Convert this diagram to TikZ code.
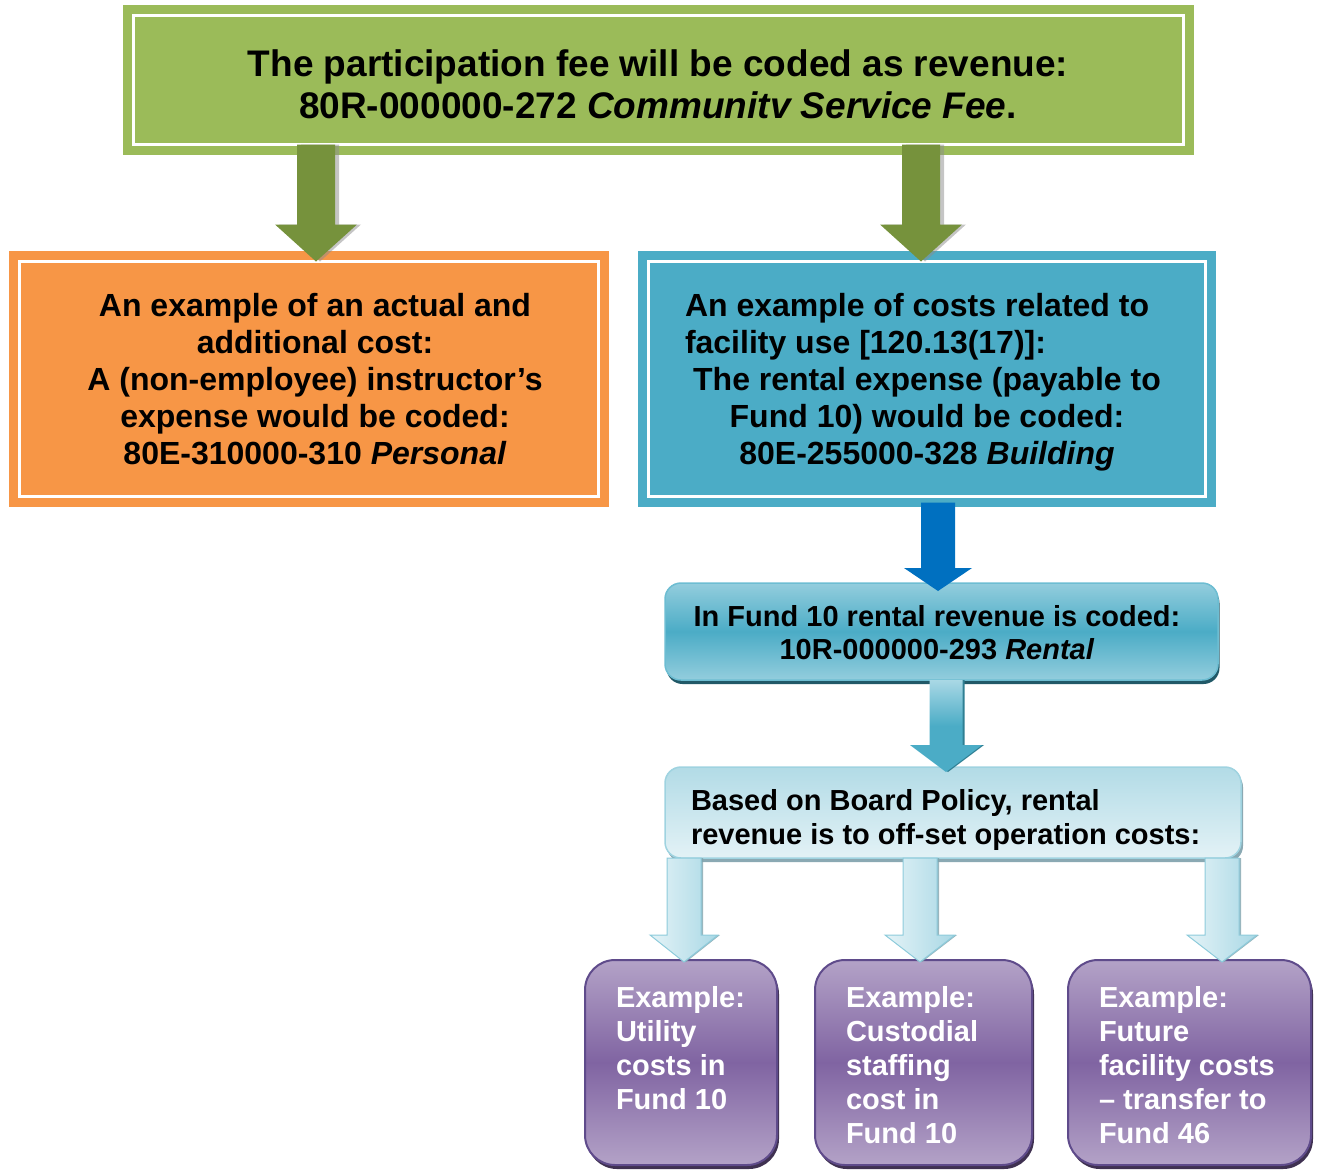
\documentclass[tikz,border=0pt]{standalone}
\usepackage{fontspec}
\setmainfont{Liberation Sans}
\usetikzlibrary{calc,shadows}
\definecolor{cgreen}{HTML}{9BBB59}
\definecolor{cgreendk}{HTML}{76923C}
\definecolor{corange}{HTML}{F79646}
\definecolor{cblue}{HTML}{4BACC6}
\definecolor{carrowblue}{HTML}{0070C0}
\definecolor{cfundlt}{HTML}{93CDDD}
\definecolor{cfundmid}{HTML}{4BACC6}
\definecolor{cfundedge}{HTML}{6DBDD2}
\definecolor{cfundsh}{HTML}{215968}
\definecolor{cboardtop}{HTML}{B2DBE6}
\definecolor{cboardbot}{HTML}{E3F2F6}
\definecolor{cboardedge}{HTML}{9FD3E0}
\definecolor{cboardsh}{HTML}{8AA9B3}
\definecolor{cpurplt}{HTML}{B3A2C7}
\definecolor{cpurpmid}{HTML}{8064A2}
\definecolor{cpurpedge}{HTML}{5F4B8B}
\definecolor{cpurpsh}{HTML}{3F3151}
\definecolor{clarrlt}{HTML}{E4F3F7}
\definecolor{clarrdk}{HTML}{A9D8E5}
\definecolor{clarredge}{HTML}{8DCBDB}
\definecolor{clarrsh}{HTML}{7FA4AE}
\definecolor{cmarrsh}{HTML}{2F7F93}
% #1 style, #2 x, #3 start, #4 tip, #5 half shaft, #6 half head, #7 head length
\newcommand\blockarrow[7][]{%
  \path[#1] let \p1=(#3), \p2=(#4) in
    (#2-#5,\y1) -- (#2+#5,\y1) -- (#2+#5,\y2+#7) -- (#2+#6,\y2+#7) --
    (#2,\y2) -- (#2-#6,\y2+#7) -- (#2-#5,\y2+#7) -- cycle;}
\begin{document}
\begin{tikzpicture}[x=1pt,y=-1pt,
  dbox/.style={draw=#1, fill=#1, double=white, double distance=3pt, line width=9pt, inner sep=0pt, outer sep=0pt},
  fundbox/.style={rounded corners=16pt, inner sep=0pt, outer sep=0pt, draw=cfundedge, line width=1.5pt,
     top color=cfundlt, bottom color=cfundlt, middle color=cfundmid,
     drop shadow={shadow xshift=1.5pt, shadow yshift=-4pt, fill=cfundsh, opacity=1}},
  boardbox/.style={rounded corners=16pt, inner sep=0pt, outer sep=0pt, draw=cboardedge, line width=1.5pt,
     top color=cboardtop, bottom color=cboardbot,
     drop shadow={shadow xshift=2pt, shadow yshift=-4pt, fill=cboardsh, opacity=1}},
  purpbox/.style={rounded corners=30pt, inner sep=0pt, outer sep=0pt, draw=cpurpedge, line width=2pt,
     top color=cpurplt, bottom color=cpurplt, middle color=cpurpmid,
     drop shadow={shadow xshift=2pt, shadow yshift=-4pt, fill=cpurpsh, opacity=1}},
  txt/.style={inner sep=0pt, outer sep=0pt, font=\fontsize{#1}{#1}\bfseries},
  btxt/.style={inner sep=0pt, outer sep=0pt},
  garrow/.style={fill=cgreendk},
  gshadow/.style={fill=black!45, opacity=.5, xshift=4pt, yshift=-3pt},
  barrow/.style={fill=carrowblue},
  marrow/.style={top color=clarrdk, bottom color=cfundmid, middle color=cfundmid},
  mshadow/.style={fill=cmarrsh, xshift=2pt, yshift=-4pt},
  larrow/.style={left color=clarrlt, right color=clarrdk, draw=clarredge, line width=1pt},
  lshadow/.style={fill=clarrsh, opacity=.8, xshift=2pt, yshift=-4pt}
]
\useasboundingbox (0,0) rectangle (1317,1170);

% boxes
\node[dbox=cgreen, minimum width=1050pt, minimum height=129pt] (top) at (658.5,80) {};
\node[dbox=corange, minimum width=579pt, minimum height=235pt] (orange) at (309,379) {};
\node[dbox=cblue, minimum width=557pt, minimum height=235pt] (blue) at (927,379) {};
\node[fundbox, minimum width=553pt, minimum height=97pt] (fund) at (941.5,631.5) {};
\node[boardbox, minimum width=576pt, minimum height=91pt] (board) at (953,812.5) {};
\node[purpbox, minimum width=192pt, minimum height=205pt] (p1) at (681,1062.5) {};
\node[purpbox, minimum width=217pt, minimum height=205pt] (p2) at (923.5,1062.5) {};
\node[purpbox, minimum width=243pt, minimum height=205pt] (p3) at (1189.5,1062.5) {};

% arrows
\blockarrow[gshadow]{316pt}{top.south}{orange.north}{19pt}{41pt}{37pt}
\blockarrow[garrow]{316pt}{top.south}{orange.north}{19pt}{41pt}{37pt}
\blockarrow[gshadow]{921pt}{top.south}{blue.north}{19pt}{41pt}{37pt}
\blockarrow[garrow]{921pt}{top.south}{blue.north}{19pt}{41pt}{37pt}
\blockarrow[barrow]{938pt}{$(blue.south)+(0,6)$}{$(fund.north)+(0,8)$}{17pt}{34pt}{23pt}
\blockarrow[mshadow]{946pt}{fund.south}{$(board.north)+(0,5)$}{16.5pt}{36pt}{27pt}
\blockarrow[marrow]{946pt}{fund.south}{$(board.north)+(0,5)$}{16.5pt}{36pt}{27pt}
\blockarrow[lshadow]{684pt}{board.south}{$(p1.north)+(0,2)$}{17pt}{34pt}{27pt}
\blockarrow[larrow]{684pt}{board.south}{$(p1.north)+(0,2)$}{17pt}{34pt}{27pt}
\blockarrow[lshadow]{920pt}{board.south}{$(p2.north)+(0,2)$}{17pt}{35pt}{27pt}
\blockarrow[larrow]{920pt}{board.south}{$(p2.north)+(0,2)$}{17pt}{35pt}{27pt}
\blockarrow[lshadow]{1222pt}{board.south}{$(p3.north)+(0,2)$}{17pt}{35pt}{27pt}
\blockarrow[larrow]{1222pt}{board.south}{$(p3.north)+(0,2)$}{17pt}{35pt}{27pt}

% texts
\node[btxt, font=\fontsize{37}{42}\selectfont\bfseries, align=center] (toptext) at (658,84)
  {The participation fee will be coded as revenue:\\80R-000000-272 \textit{Communitv Service Fee}.};
\node[btxt, font=\fontsize{32}{37}\selectfont\bfseries, align=center] (orangetext) at (315,379)
  {An example of an actual and\\additional cost:\\A (non-employee) instructor’s\\expense would be coded:\\80E-310000-310 \textit{Personal}};
\node[btxt, font=\fontsize{32}{37}\selectfont\bfseries, align=left, anchor=north west] (bluetexta) at (685,293.5)
  {An example of costs related to\\facility use [120.13(17)]:};
\node[btxt, font=\fontsize{32}{37}\selectfont\bfseries, align=center] (bluetextb) at (927,419)
  {The rental expense (payable to\\Fund 10) would be coded:\\80E-255000-328 \textit{Building}};
\node[btxt, font=\fontsize{29}{33}\selectfont\bfseries, align=center] (fundtext) at (937,632.5)
  {In Fund 10 rental revenue is coded:\\10R-000000-293 \textit{Rental}};
\node[btxt, font=\fontsize{29}{34}\selectfont\bfseries, align=left, anchor=north west] (boardtext) at (691,789)
  {Based on Board Policy, rental\\revenue is to off-set operation costs:};
\node[btxt, font=\fontsize{29}{34}\selectfont\bfseries, text=white, align=left, anchor=north west] (p1text) at (616,986)
  {Example:\\Utility\\costs in\\Fund 10};
\node[btxt, font=\fontsize{29}{34}\selectfont\bfseries, text=white, align=left, anchor=north west] (p2text) at (846,986)
  {Example:\\Custodial\\staffing\\cost in\\Fund 10};
\node[btxt, font=\fontsize{29}{34}\selectfont\bfseries, text=white, align=left, anchor=north west] (p3text) at (1099,986)
  {Example:\\Future\\facility costs\\– transfer to\\Fund 46};
\end{tikzpicture}
\end{document}
